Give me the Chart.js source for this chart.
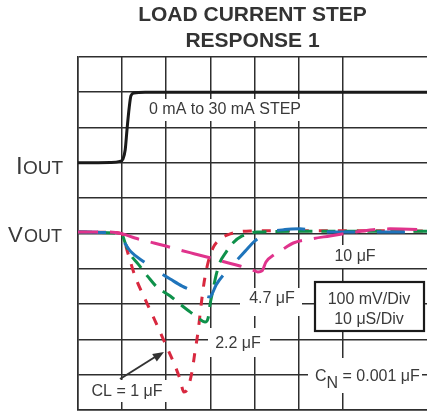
<!DOCTYPE html>
<html>
<head>
<meta charset="utf-8">
<script src="https://cdn.jsdelivr.net/npm/chart.js@4"></script>
<style>
  html, body { margin: 0; padding: 0; background: #fff; overflow: hidden; }
  canvas { display: block; }
</style>
</head>
<body>
<canvas id="stepChart" width="427" height="411"></canvas>
<script>
// time in microseconds (10 uS/div), level in screen divisions (0 = bottom, 10 = top)
const ioutTime = [0, 7.3, 9.5, 10.2, 10.7, 11.1, 11.6, 12.0, 12.7, 15.2, 80];
const ioutLevel = [7.0, 7.01, 7.04, 7.11, 7.37, 7.93, 8.56, 8.9, 8.98, 9.0, 9.0];

const cl1Time = [0, 7.3, 10.0, 11.1, 12.9, 15.2, 17.5, 19.7, 22.0, 23.1, 24.0, 24.9, 25.9, 26.5, 27.2, 27.9, 28.6, 29.5, 30.6, 32.2, 34.5, 39.0, 50.3, 80];
const cl1Level = [5.04, 5.03, 4.99, 4.53, 3.80, 3.14, 2.52, 1.90, 1.25, 0.88, 0.51, 0.62, 1.13, 1.64, 2.21, 2.97, 3.63, 4.19, 4.59, 4.84, 4.99, 5.07, 5.08, 5.07];

const cl22Time = [0, 8.4, 10.0, 10.7, 11.8, 13.6, 15.9, 17.9, 20.9, 23.1, 25.4, 27.2, 28.8, 29.5, 29.9, 30.6, 31.3, 32.2, 33.6, 35.1, 37.2, 40.6, 50.3, 80];
const cl22Level = [5.04, 5.01, 4.96, 4.73, 4.42, 4.14, 3.77, 3.48, 3.23, 3.0, 2.78, 2.61, 2.49, 2.61, 2.97, 3.40, 3.82, 4.19, 4.48, 4.73, 4.93, 5.04, 5.06, 5.06];

const cl47Time = [0, 5.0, 7.7, 10.0, 12.0, 15.0, 17.9, 20.9, 23.6, 26.8, 28.8, 29.9, 30.4, 31.3, 33.3, 35.6, 37.9, 40.1, 42.9, 46.9, 50.3, 56.0, 62.4, 80];
const cl47Level = [5.04, 5.03, 5.0, 4.82, 4.48, 4.19, 3.94, 3.71, 3.51, 3.34, 3.23, 3.20, 3.29, 3.54, 3.88, 4.19, 4.50, 4.79, 5.01, 5.11, 5.13, 5.04, 5.04, 5.04];

const cl10Time = [0, 7.3, 10.0, 12.9, 16.3, 19.7, 23.1, 26.5, 29.9, 33.3, 36.7, 39.5, 40.8, 41.7, 42.6, 44.7, 46.9, 48.8, 52.6, 57.1, 61.2, 64.4, 70.7, 80];
const cl10Level = [5.04, 5.04, 4.99, 4.87, 4.76, 4.65, 4.53, 4.42, 4.31, 4.19, 4.08, 3.97, 3.91, 3.94, 4.19, 4.42, 4.59, 4.73, 4.84, 4.93, 5.01, 5.07, 5.13, 5.10];

const titleLines = ['LOAD CURRENT STEP', 'RESPONSE 1'];

function pts(t, v) {
    return t.map(function (x, i) { return {x: x, y: v[i]}; });
}

const FONT = '"Liberation Sans", Arial, sans-serif';
const TEXT = '#3a3a3a';

function textBox(ctx, x0, y0, x1, y1) {
    ctx.fillStyle = '#fff';
    ctx.fillRect(x0, y0, x1 - x0, y1 - y0);
}

function label(ctx, str, x, y, size) {
    ctx.font = (size || 16) + 'px ' + FONT;
    ctx.fillStyle = TEXT;
    ctx.textAlign = 'center';
    ctx.textBaseline = 'middle';
    ctx.fillText(str, x, y);
}

const notes = {
    id: 'notes',
    beforeDatasetsDraw: function (chart) {
        const ctx = chart.ctx;
        ctx.save();
        // white boxes behind the labels
        textBox(ctx, 140, 99, 307, 121);
        textBox(ctx, 328, 245, 382, 268);
        textBox(ctx, 240, 288, 302, 316);
        textBox(ctx, 208, 328, 270, 357);
        textBox(ctx, 85, 380, 170, 402);
        textBox(ctx, 308, 358, 422, 393);

        label(ctx, '0 mA to 30 mA STEP', 225, 110);
        label(ctx, '10 \u03BCF', 355, 257);
        label(ctx, '4.7 \u03BCF', 272, 299);
        label(ctx, '2.2 \u03BCF', 238, 344);
        label(ctx, 'CL = 1 \u03BCF', 127, 392);

        // C_N label with subscript
        ctx.font = '16px ' + FONT;
        ctx.fillStyle = TEXT;
        ctx.textAlign = 'left';
        ctx.textBaseline = 'alphabetic';
        ctx.fillText('C', 315, 381);
        const cw = ctx.measureText('C').width;
        ctx.fillText('N', 315 + cw, 388);
        const nw = ctx.measureText('N').width;
        ctx.fillText(' = 0.001 \u03BCF', 315 + cw + nw, 381);

        // scale box
        ctx.fillStyle = '#fff';
        ctx.fillRect(315, 282, 109, 49);
        ctx.strokeStyle = '#1a1a1a';
        ctx.lineWidth = 2.2;
        ctx.strokeRect(315, 282, 109, 49);
        label(ctx, '100 mV/Div', 369, 300);
        label(ctx, '10 \u03BCS/Div', 369, 320);

        // arrow pointing at the 1 uF trace
        ctx.strokeStyle = '#333';
        ctx.fillStyle = '#333';
        ctx.lineWidth = 2;
        ctx.beginPath();
        ctx.moveTo(120, 379);
        ctx.lineTo(155, 357);
        ctx.stroke();
        const ang = Math.atan2(352 - 379, 164 - 120);
        ctx.beginPath();
        ctx.moveTo(164, 352);
        ctx.lineTo(164 - 12 * Math.cos(ang - 0.38), 352 - 12 * Math.sin(ang - 0.38));
        ctx.lineTo(164 - 12 * Math.cos(ang + 0.38), 352 - 12 * Math.sin(ang + 0.38));
        ctx.closePath();
        ctx.fill();
        ctx.restore();
    },
    afterDraw: function (chart) {
        const ctx = chart.ctx;
        ctx.save();
        ctx.fillStyle = TEXT;
        ctx.textAlign = 'left';
        ctx.textBaseline = 'alphabetic';
        ctx.font = '24px ' + FONT;
        ctx.fillText('I', 16, 174);
        ctx.font = '19px ' + FONT;
        ctx.fillText('OUT', 23, 174);
        ctx.font = '22px ' + FONT;
        ctx.fillText('V', 8, 242);
        ctx.font = '18px ' + FONT;
        ctx.fillText('OUT', 24, 242);
        ctx.restore();
    }
};

function gridColor(c) {
    return Math.abs(c.tick.value - Math.round(c.tick.value / 10) * 10) < 0.01 ? '#2e2e2e' : 'rgba(0,0,0,0)';
}

function trace(label, t, v, color, dash) {
    return {
        label: label,
        data: pts(t, v),
        borderColor: color,
        borderWidth: 3,
        borderDash: dash,
        borderCapStyle: 'butt',
        pointRadius: 0,
        cubicInterpolationMode: 'monotone',
        fill: false
    };
}

new Chart(document.getElementById('stepChart').getContext('2d'), {
    type: 'line',
    data: {
        datasets: [
            trace('IOUT', ioutTime, ioutLevel, '#1a1a1a', []),
            trace('10 uF', cl10Time, cl10Level, '#e0338c', [20, 12, 30, 12]),
            trace('4.7 uF', cl47Time, cl47Level, '#1f74bb', [28, 22]),
            trace('2.2 uF', cl22Time, cl22Level, '#0e914a', [14, 9]),
            trace('1 uF', cl1Time, cl1Level, '#d8283f', [9, 10])
        ]
    },
    options: {
        responsive: false,
        animation: false,
        layout: {padding: {left: 78, right: 0, top: 0, bottom: 1}},
        scales: {
            x: {
                type: 'linear',
                min: 0,
                max: 79.1,
                ticks: {display: false, stepSize: 10},
                grid: {color: gridColor, lineWidth: 1.5, drawTicks: false},
                border: {display: true, color: '#2e2e2e', width: 1.5}
            },
            y: {
                min: 0,
                max: 10,
                ticks: {display: false, stepSize: 1},
                grid: {color: '#2e2e2e', lineWidth: 1.5, drawTicks: false},
                border: {display: true, color: '#2e2e2e', width: 1.5}
            }
        },
        plugins: {
            legend: {display: false},
            tooltip: {enabled: false},
            title: {
                display: true,
                fullSize: false,
                text: titleLines,
                color: '#333',
                font: {family: FONT, size: 21, weight: 'bold', lineHeight: 1.26},
                padding: {top: 2, bottom: 2}
            }
        }
    },
    plugins: [notes]
});
</script>
</body>
</html>
